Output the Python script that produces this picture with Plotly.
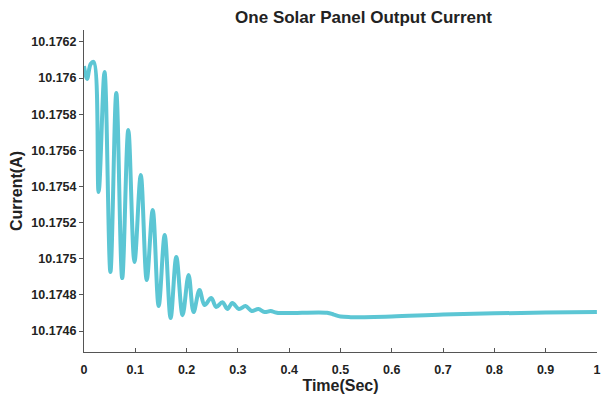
import plotly.graph_objects as go

time_s = [0.000, 0.006, 0.013, 0.019, 0.0285, 0.040, 0.0515, 0.063, 0.0745, 0.0864,
          0.0984, 0.1107, 0.1223, 0.1340, 0.1456, 0.1573, 0.1689, 0.1800, 0.1922, 0.2039,
          0.2136, 0.2252, 0.2350, 0.2480, 0.2577, 0.2699, 0.2796, 0.2893, 0.302, 0.315,
          0.327, 0.340, 0.352, 0.364, 0.376, 0.474, 0.487, 0.500, 0.520, 0.600,
          0.700, 0.800, 0.900, 1.000]
current_a = [10.176067, 10.175995, 10.176078, 10.176089, 10.175369, 10.176034, 10.174927, 10.175918, 10.174893, 10.175713,
             10.174982, 10.175464, 10.174882, 10.175270, 10.174738, 10.175131, 10.174672, 10.175010, 10.174688, 10.174910,
             10.174705, 10.174827, 10.174744, 10.174783, 10.174733, 10.174760, 10.174722, 10.174755, 10.174722, 10.174738,
             10.174711, 10.174722, 10.174705, 10.174711, 10.174701, 10.174701, 10.174691, 10.174680, 10.174677, 10.174681,
             10.174692, 10.174698, 10.174702, 10.174706]

x_ticks = [0, 0.1, 0.2, 0.3, 0.4, 0.5, 0.6, 0.7, 0.8, 0.9, 1]
x_tick_labels = ["0", "0.1", "0.2", "0.3", "0.4", "0.5", "0.6", "0.7", "0.8", "0.9", "1"]
y_ticks = [10.1746, 10.1748, 10.1750, 10.1752, 10.1754, 10.1756, 10.1758, 10.1760, 10.1762]
y_tick_labels = ["10.1746", "10.1748", "10.175", "10.1752", "10.1754", "10.1756", "10.1758", "10.176", "10.1762"]

fig = go.Figure()
fig.add_trace(go.Scatter(
    x=time_s, y=current_a, mode="lines",
    line=dict(color="rgb(92,198,212)", width=4, shape="spline", smoothing=1.0),
    showlegend=False, cliponaxis=False,
))

font_family = "Liberation Sans, Arial, sans-serif"
fig.update_layout(
    width=601, height=398,
    margin=dict(l=84, r=1, t=30, b=46),
    paper_bgcolor="white", plot_bgcolor="white",
    font=dict(family=font_family, color="#222222"),
    title=dict(text="<b>One Solar Panel Output Current</b>", x=0.545, xref="paper",
               xanchor="center", y=1 - 17 / 398, yanchor="middle",
               font=dict(size=17, color="#222222")),
    xaxis=dict(range=[0, 1.0002], tickvals=x_ticks, ticktext=[f"<b>{t}</b>" for t in x_tick_labels],
               showline=True, linecolor="#555555", linewidth=1, mirror=False,
               ticks="inside", ticklen=4, tickcolor="#555555", showgrid=False, zeroline=False,
               ticklabelstandoff=6, ticklabeloverflow="allow",
               tickfont=dict(size=12.5), title=dict(text="<b>Time(Sec)</b>", font=dict(size=16), standoff=2)),
    yaxis=dict(range=[10.174484, 10.176266], tickvals=y_ticks, ticktext=[f"<b>{t}</b>" for t in y_tick_labels],
               showline=True, linecolor="#555555", linewidth=1, mirror=False,
               ticks="outside", ticklen=4, tickcolor="#555555", showgrid=False, zeroline=False,
               ticklabeloverflow="allow",
               tickfont=dict(size=12.5), title=dict(text="<b>Current(A)</b>", font=dict(size=16), standoff=4)),
)

fig.write_html("out.html")
